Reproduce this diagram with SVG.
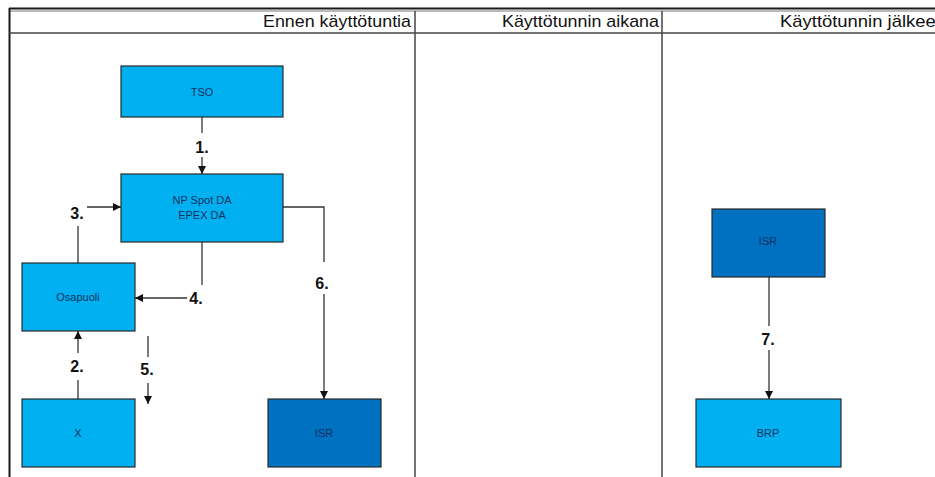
<svg xmlns="http://www.w3.org/2000/svg" width="935" height="477" viewBox="0 0 935 477">
  <defs>
    <marker id="arr" viewBox="0 0 10 10" refX="10" refY="5" markerWidth="8" markerHeight="8" markerUnits="userSpaceOnUse" orient="auto">
      <path d="M0,0 L10,5 L0,10 z" fill="#111"/>
    </marker>
    <style>
      .frame { stroke: #444; stroke-width: 1.5; fill: none; }
      .hdr { font-family: "Liberation Sans", Arial, sans-serif; font-size: 17px; fill: #111; text-anchor: end; }
      .box-l { fill: #00B0F0; stroke: #2a2a2a; stroke-width: 1.2; }
      .box-d { fill: #0070C0; stroke: #2a2a2a; stroke-width: 1.2; }
      .nt { font-family: "Liberation Sans", Arial, sans-serif; font-size: 11px; fill: #14305e; text-anchor: middle; }
      .ln { stroke: #333; stroke-width: 1.3; fill: none; }
      .lbl { font-family: "Liberation Sans", Arial, sans-serif; font-size: 16px; font-weight: bold; fill: #111; text-anchor: middle; }
    </style>
  </defs>
  <rect width="935" height="477" fill="#fff"/>

  <!-- swimlane frame -->
  <g id="frame">
    <line x1="9" y1="8.5" x2="935" y2="8.5" stroke="#1a1a1a" stroke-width="2"/>
    <line x1="9" y1="11" x2="935" y2="11" stroke="#777" stroke-width="1"/>
    <line x1="9.5" y1="8" x2="9.5" y2="477" stroke="#1a1a1a" stroke-width="2"/>
    <line x1="9" y1="33" x2="935" y2="33" class="frame"/>
    <line x1="415" y1="11" x2="415" y2="477" class="frame"/>
    <line x1="662" y1="11" x2="662" y2="477" class="frame"/>
    <text class="hdr" x="411" y="27" textLength="148" lengthAdjust="spacingAndGlyphs">Ennen käyttötuntia</text>
    <text class="hdr" x="659" y="27" textLength="157" lengthAdjust="spacingAndGlyphs">Käyttötunnin aikana</text>
    <text class="hdr" x="780" y="27" style="text-anchor:start" textLength="166" lengthAdjust="spacingAndGlyphs">Käyttötunnin jälkeen</text>
  </g>

  <!-- connectors -->
  <g id="connectors">
    <!-- 1: TSO -> NP -->
    <line class="ln" x1="202" y1="117" x2="202" y2="133"/>
    <line class="ln" x1="202" y1="157" x2="202" y2="174" marker-end="url(#arr)"/>
    <text class="lbl" x="202" y="153">1.</text>
    <!-- 3: Osapuoli -> NP -->
    <line class="ln" x1="78" y1="263" x2="78" y2="226"/>
    <line class="ln" x1="87" y1="207" x2="121" y2="207" marker-end="url(#arr)"/>
    <text class="lbl" x="77" y="219">3.</text>
    <!-- 4: NP -> Osapuoli -->
    <line class="ln" x1="202" y1="242" x2="202" y2="285"/>
    <line class="ln" x1="187" y1="298" x2="135" y2="298" marker-end="url(#arr)"/>
    <text class="lbl" x="196" y="304">4.</text>
    <!-- 2: X -> Osapuoli -->
    <line class="ln" x1="78" y1="399" x2="78" y2="380"/>
    <line class="ln" x1="78" y1="353" x2="78" y2="331" marker-end="url(#arr)"/>
    <text class="lbl" x="77" y="372">2.</text>
    <!-- 5 -->
    <line class="ln" x1="148" y1="336" x2="148" y2="357"/>
    <line class="ln" x1="148" y1="383" x2="148" y2="404" marker-end="url(#arr)"/>
    <text class="lbl" x="147" y="375">5.</text>
    <!-- 6: NP -> ISR -->
    <polyline class="ln" points="283,207 324,207 324,262"/>
    <line class="ln" x1="324" y1="294" x2="324" y2="399" marker-end="url(#arr)"/>
    <text class="lbl" x="322" y="289">6.</text>
    <!-- 7: ISR -> BRP -->
    <line class="ln" x1="769" y1="277" x2="769" y2="326"/>
    <line class="ln" x1="769" y1="350" x2="769" y2="399" marker-end="url(#arr)"/>
    <text class="lbl" x="768" y="345">7.</text>
  </g>

  <!-- nodes -->
  <g id="tso">
    <rect class="box-l" x="121" y="66" width="162" height="51"/>
    <text class="nt" x="202" y="96">TSO</text>
  </g>
  <g id="np">
    <rect class="box-l" x="121" y="174" width="162" height="68"/>
    <text class="nt" x="202" y="204">NP Spot DA</text>
    <text class="nt" x="202" y="219">EPEX DA</text>
  </g>
  <g id="osapuoli">
    <rect class="box-l" x="22" y="263" width="113" height="68"/>
    <text class="nt" x="78" y="301">Osapuoli</text>
  </g>
  <g id="x">
    <rect class="box-l" x="22" y="399" width="113" height="68"/>
    <text class="nt" x="78" y="437">X</text>
  </g>
  <g id="isr-1">
    <rect class="box-d" x="268" y="399" width="113" height="68"/>
    <text class="nt" x="324" y="437">ISR</text>
  </g>
  <g id="isr-2">
    <rect class="box-d" x="712" y="209" width="113" height="68"/>
    <text class="nt" x="768" y="245">ISR</text>
  </g>
  <g id="brp">
    <rect class="box-l" x="696" y="399" width="145" height="68"/>
    <text class="nt" x="768" y="437">BRP</text>
  </g>
</svg>
